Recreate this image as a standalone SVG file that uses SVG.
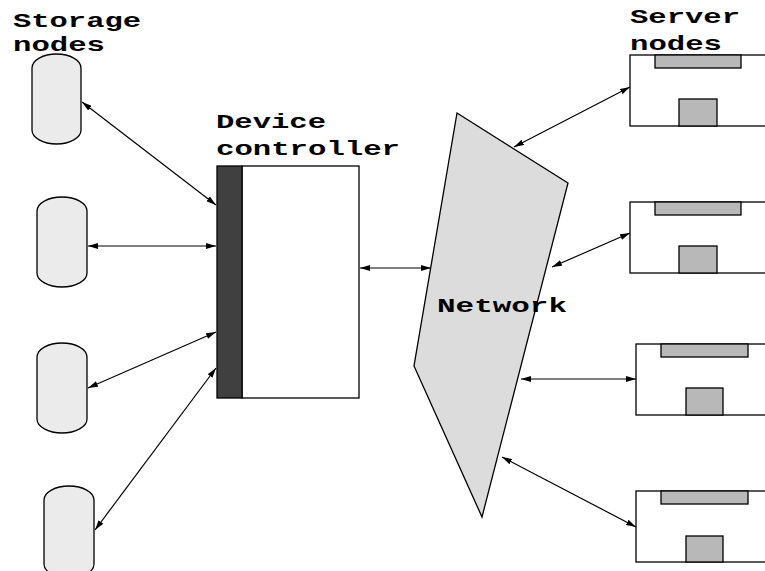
<svg xmlns="http://www.w3.org/2000/svg" width="765" height="571" viewBox="0 0 765 571">
<style>
.lbl{font-family:"Liberation Mono","Courier New",monospace;font-weight:bold;font-size:21px;fill:#000}
.stor{fill:#ebebeb;stroke:#000;stroke-width:1.3}
.srv{fill:#fff;stroke:#000;stroke-width:1.3}
.part{fill:#b8b8b8;stroke:#000;stroke-width:1.3}
.conn line{stroke:#000;stroke-width:1.2;marker-start:url(#ah);marker-end:url(#ah)}
</style>
<defs>
<marker id="ah" viewBox="0 0 10 6" refX="10" refY="3" markerWidth="10" markerHeight="6" markerUnits="userSpaceOnUse" orient="auto-start-reverse">
<path d="M0,0 L10,3 L0,6 z" fill="#000"/>
</marker>
</defs>
<rect width="765" height="571" fill="#fff"/>

<g id="storage-label">
<text class="lbl" x="13" y="27" textLength="128" lengthAdjust="spacingAndGlyphs">Storage</text>
<text class="lbl" x="13" y="51" textLength="92" lengthAdjust="spacingAndGlyphs">nodes</text>
</g>
<g id="storage1"><rect class="stor" x="32" y="54" width="49" height="90" rx="24.5" ry="14"/></g>
<g id="storage2"><rect class="stor" x="37" y="197" width="50" height="90" rx="25" ry="14"/></g>
<g id="storage3"><rect class="stor" x="37" y="343" width="50" height="90" rx="25" ry="14"/></g>
<g id="storage4"><rect class="stor" x="44" y="486" width="50" height="92" rx="25" ry="14"/></g>

<g id="device-controller">
<text class="lbl" x="216" y="128" textLength="110" lengthAdjust="spacingAndGlyphs">Device</text>
<text class="lbl" x="216" y="155" textLength="184" lengthAdjust="spacingAndGlyphs">controller</text>
<rect x="242" y="166" width="117" height="232" fill="#fff" stroke="#000" stroke-width="1.3"/>
<rect x="217" y="166" width="25" height="232" fill="#404040" stroke="#000" stroke-width="1.3"/>
</g>

<g id="network">
<polygon points="457,113 568,183 482,517 414,366" fill="#dcdcdc" stroke="#000" stroke-width="1.3"/>
<text class="lbl" x="437" y="312" textLength="130" lengthAdjust="spacingAndGlyphs">Network</text>
</g>

<g id="server-label">
<text class="lbl" x="630" y="23" textLength="110" lengthAdjust="spacingAndGlyphs">Server</text>
<text class="lbl" x="630" y="50" textLength="92" lengthAdjust="spacingAndGlyphs">nodes</text>
</g>
<g id="server1">
<rect class="srv" x="630" y="55" width="150" height="71"/>
<rect class="part" x="655" y="55" width="86" height="13"/>
<rect class="part" x="679" y="99" width="38" height="27"/>
</g>
<g id="server2">
<rect class="srv" x="630" y="202" width="150" height="71"/>
<rect class="part" x="655" y="202" width="86" height="13"/>
<rect class="part" x="679" y="246" width="38" height="27"/>
</g>
<g id="server3">
<rect class="srv" x="636" y="344" width="150" height="71"/>
<rect class="part" x="661" y="344" width="87" height="13"/>
<rect class="part" x="686" y="388" width="37" height="27"/>
</g>
<g id="server4">
<rect class="srv" x="636" y="491" width="150" height="71"/>
<rect class="part" x="661" y="491" width="87" height="13"/>
<rect class="part" x="686" y="536" width="37" height="26"/>
</g>

<g id="connectors" class="conn">
<line x1="82" y1="102" x2="216" y2="205"/>
<line x1="88" y1="246" x2="216" y2="246"/>
<line x1="88" y1="388" x2="216" y2="332"/>
<line x1="95" y1="530" x2="216" y2="368"/>
<line x1="360" y1="268" x2="431" y2="268"/>
<line x1="514" y1="147" x2="630" y2="87"/>
<line x1="552" y1="267" x2="630" y2="233"/>
<line x1="521" y1="379" x2="636" y2="379"/>
<line x1="502" y1="457" x2="636" y2="527"/>
</g>
</svg>
